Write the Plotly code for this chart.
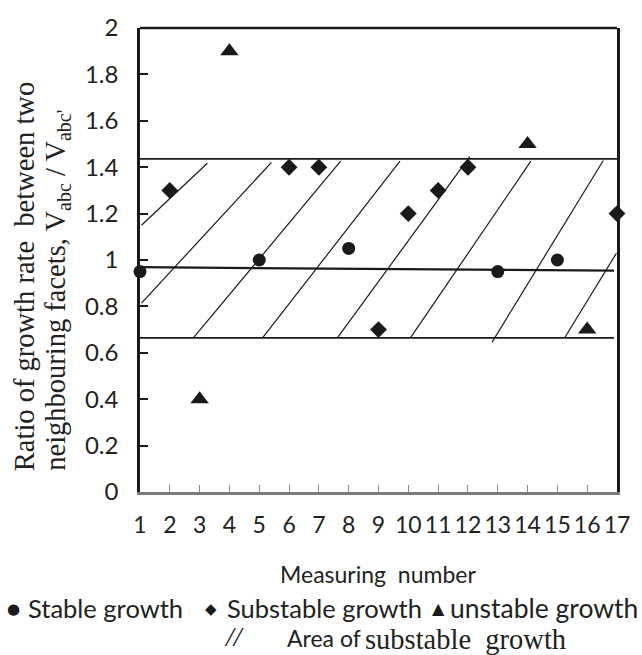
import plotly.graph_objects as go

# ---------------- data ----------------
stable_x = [1, 5, 8, 13, 15]
stable_y = [0.95, 1.0, 1.05, 0.95, 1.0]

substable_x = [2, 6, 7, 9, 10, 11, 12, 17]
substable_y = [1.3, 1.4, 1.4, 0.7, 1.2, 1.3, 1.4, 1.2]

unstable_x = [3, 4, 14, 16]
unstable_y = [0.4, 1.9, 1.5, 0.7]

# boundary lines of the substable area
upper_x = [1, 17]
upper_y = [1.436, 1.436]
middle_x = [1, 16.9]
middle_y = [0.969, 0.954]
lower_x = [1, 16.9]
lower_y = [0.664, 0.664]

# hatch segments (start -> end)
hatch_x0 = [1.05, 1.05, 2.79, 5.11, 7.62, 10.07, 12.81, 15.24]
hatch_y0 = [1.15, 0.814, 0.664, 0.664, 0.664, 0.664, 0.646, 0.664]
hatch_x1 = [3.26, 5.41, 7.73, 9.72, 12.06, 14.11, 16.54, 16.98]
hatch_y1 = [1.417, 1.421, 1.426, 1.426, 1.446, 1.426, 1.429, 1.029]

x_ticks = list(range(1, 18))
y_ticks = [0, 0.2, 0.4, 0.6, 0.8, 1.0, 1.2, 1.4, 1.6, 1.8, 2.0]
y_tick_text = ["0", "0.2", "0.4", "0.6", "0.8", "1", "1.2", "1.4", "1.6", "1.8", "2"]

# ---------------- figure ----------------
W, H = 642, 655
L, R, T, B = 140, 623, 22, 492

SANS = "Lato, 'Open Sans', 'DejaVu Sans', sans-serif"
SERIF = "'Liberation Serif', 'DejaVu Serif', serif"
INK = "#1a1a1a"
TXT = "#222"

fig = go.Figure()

# hatch lines
hx, hy = [], []
for a, b, c, d in zip(hatch_x0, hatch_y0, hatch_x1, hatch_y1):
    hx += [a, c, None]
    hy += [b, d, None]
fig.add_trace(go.Scatter(x=hx, y=hy, mode="lines", line=dict(color=INK, width=1.2),
                         hoverinfo="skip", showlegend=False, name="Area of substable growth"))

for xs, ys, w in [(upper_x, upper_y, 1.6), (middle_x, middle_y, 2.2), (lower_x, lower_y, 1.8)]:
    fig.add_trace(go.Scatter(x=xs, y=ys, mode="lines", line=dict(color=INK, width=w),
                             hoverinfo="skip", showlegend=False))

fig.add_trace(go.Scatter(x=stable_x, y=stable_y, mode="markers", name="Stable growth",
                         marker=dict(symbol="circle", size=13, color=INK),
                         cliponaxis=False, showlegend=False))
fig.add_trace(go.Scatter(x=substable_x, y=substable_y, mode="markers", name="Substable growth",
                         marker=dict(symbol="diamond", size=13, color=INK),
                         cliponaxis=False, showlegend=False))
fig.add_trace(go.Scatter(x=unstable_x, y=unstable_y, mode="markers", name="unstable growth",
                         marker=dict(symbol="triangle-up", size=16, color=INK),
                         cliponaxis=False, showlegend=False))


def px(x):
    return (x - L) / (R - L)


def py(y):
    return (B - y) / (B - T)


ann = []
# y-axis title (two lines)
ann.append(dict(text="Ratio of growth rate \u00a0between two", textangle=-90,
                x=px(23), y=py(473), xanchor="center", yanchor="bottom",
                font=dict(family=SERIF, size=28.5, color=TXT)))
ann.append(dict(text="neighbouring facets, V<sub>abc</sub> / V<sub>abc'</sub>", textangle=-90,
                x=px(57), y=py(473), xanchor="center", yanchor="bottom",
                font=dict(family=SERIF, size=28.5, color=TXT)))
# x-axis title
ann.append(dict(text="Measuring \u00a0number", x=px(381), y=py(575), xanchor="center", yanchor="middle",
                font=dict(family=SANS, size=23, color=TXT)))
# legend row 1
sym_font = dict(family="'DejaVu Sans', sans-serif", size=15, color=INK)
txt_font = dict(family=SANS, size=25.5, color=TXT)
ann.append(dict(text="●", x=px(12), y=py(611), xanchor="center", yanchor="middle", font=sym_font))
ann.append(dict(text="Stable growth", x=px(25), y=py(610), xanchor="left", yanchor="middle", font=txt_font))
ann.append(dict(text="◆", x=px(212), y=py(611), xanchor="center", yanchor="middle", font=sym_font))
ann.append(dict(text="Substable growth", x=px(226), y=py(610), xanchor="left", yanchor="middle", font=txt_font))
ann.append(dict(text="▲", x=px(442), y=py(610), xanchor="center", yanchor="middle",
                font=dict(family="'DejaVu Sans', sans-serif", size=16, color=INK)))
ann.append(dict(text="unstable growth", x=px(452), y=py(610), xanchor="left", yanchor="middle",
                font=dict(family=SANS, size=26.5, color=TXT)))
# legend row 2
ann.append(dict(text="<i>//</i>", x=px(235), y=py(638), xanchor="center", yanchor="middle",
                font=dict(family=SERIF, size=28, color=TXT)))
ann.append(dict(text="Area of", x=px(287), y=py(640), xanchor="left", yanchor="middle",
                font=dict(family=SANS, size=23, color=TXT)))
ann.append(dict(text="substable \u00a0growth", x=px(366), y=py(641), xanchor="left", yanchor="middle",
                font=dict(family=SERIF, size=28.5, color=TXT)))

for a in ann:
    a.update(xref="paper", yref="paper", showarrow=False)

fig.update_layout(
    width=W, height=H,
    margin=dict(l=L, r=W - R, t=T, b=H - B, pad=0),
    paper_bgcolor="white", plot_bgcolor="white",
    annotations=ann,
    showlegend=False,
    xaxis=dict(range=[1, 17], tickvals=x_ticks, ticktext=[str(v) for v in x_ticks],
               ticks="inside", ticklen=7, tickwidth=1, tickcolor="#888",
               showline=True, linecolor="#7a7a7a", linewidth=2.5, mirror=False,
               showgrid=False, zeroline=False, ticklabelstandoff=11, tickangle=0,
               tickfont=dict(family=SANS, size=23, color=TXT)),
    yaxis=dict(range=[0, 2], tickvals=y_ticks, ticktext=y_tick_text,
               ticks="inside", ticklen=8, tickwidth=2, tickcolor=INK,
               showline=True, linecolor=INK, linewidth=2.5, mirror=True,
               showgrid=False, zeroline=False, ticklabelstandoff=14,
               tickfont=dict(family=SANS, size=24, color=TXT)),
    shapes=[dict(type="line", xref="paper", yref="paper", x0=0, x1=1, y0=1, y1=1,
                 line=dict(color=INK, width=2.5))],
)

fig.write_html("out.html", config={"displayModeBar": False},
               post_script="document.body.style.margin='0';document.body.style.overflow='hidden';")
